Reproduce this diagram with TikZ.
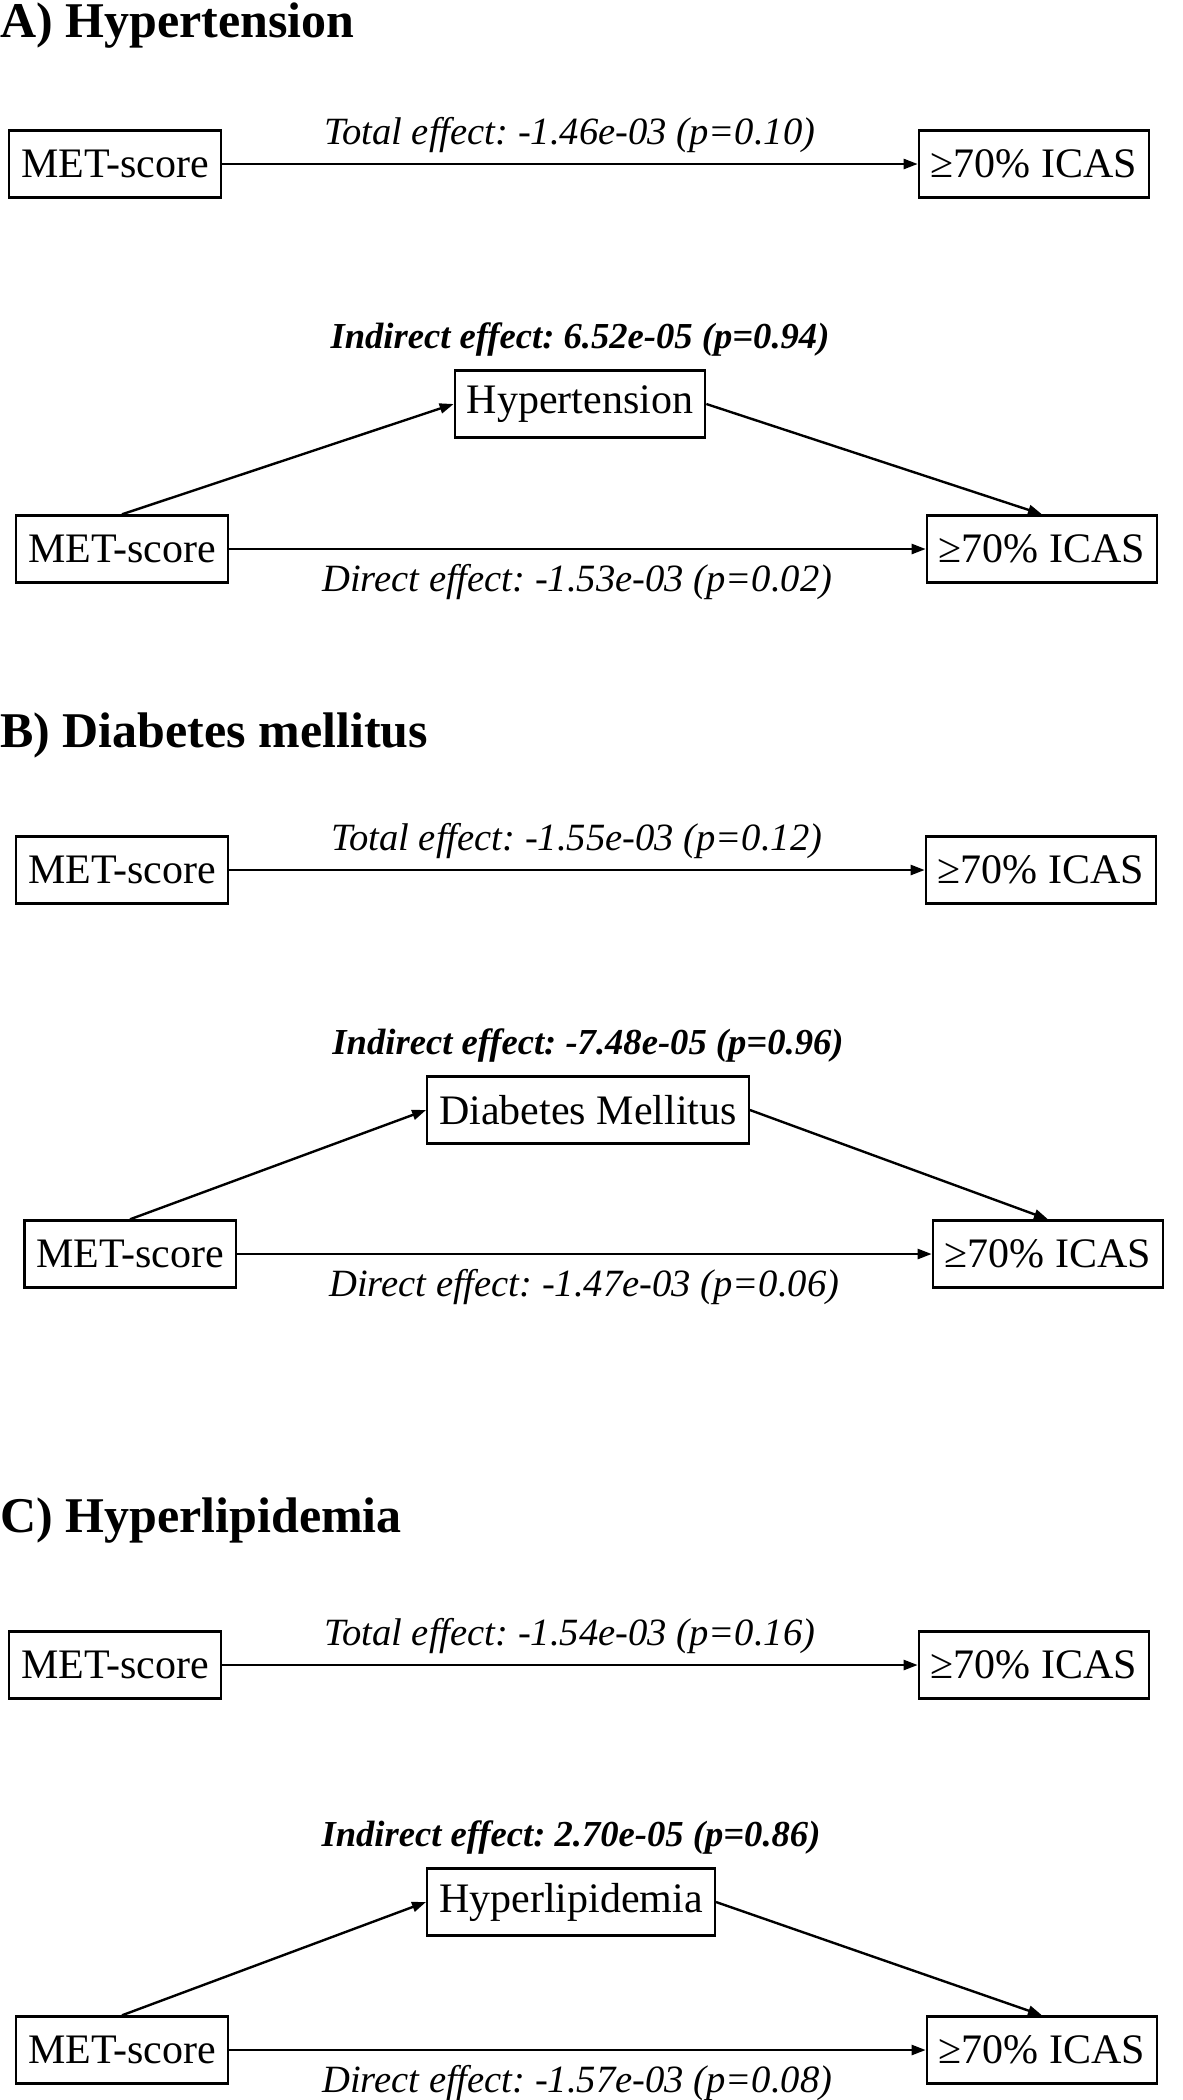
\documentclass[tikz,border=0pt]{standalone}
\usepackage{fontspec}
\setmainfont{Liberation Serif}
\usetikzlibrary{arrows.meta,positioning}
\frenchspacing

\begin{document}
\begin{tikzpicture}[x=0.5pt,y=-0.5pt,
    varbox/.style={draw,line width=1.2pt,minimum height=33.5pt,inner xsep=6pt,font=\fontsize{21}{25}\selectfont},
    paneltitle/.style={anchor=base west,inner sep=0pt,font=\fontsize{25}{30}\selectfont\bfseries},
    efflabel/.style={inner sep=0pt,font=\fontsize{19.3}{23}\selectfont\itshape},
    indlabel/.style={inner sep=0pt,font=\fontsize{18.3}{22}\selectfont\bfseries\itshape},
    effarrow/.style={line width=1.2pt,-{Triangle[length=7pt,width=5pt]}}]
  \useasboundingbox (0,0) rectangle (1183,2100);

  % A) Hypertension
  \node[paneltitle] (titleA) at (0,37) {A) Hypertension};
  \node[varbox] (metA1) at (115,164) {MET-score};
  \node[varbox] (icasA1) at (1034,164) {≥70\% ICAS};
  \draw[effarrow] (metA1) -- node[efflabel,midway,above=5pt] (totA) {Total effect: -1.46e-03 (p=0.10)} (icasA1);
  \node[varbox] (medA) at (580,404) {Hypertension};
  \node[indlabel,above=6.5pt of medA] (indA) {Indirect effect: 6.52e-05 (p=0.94)};
  \node[varbox] (metA2) at (122,549) {MET-score};
  \node[varbox] (icasA2) at (1042,549) {≥70\% ICAS};
  \draw[effarrow] (metA2) -- node[efflabel,midway,below=7pt] (dirA) {Direct effect: -1.53e-03 (p=0.02)} (icasA2);
  \draw[effarrow] (metA2.north) -- (medA.west);
  \draw[effarrow] (medA.east) -- (icasA2.north);

  % B) Diabetes mellitus
  \node[paneltitle] (titleB) at (0,747) {B) Diabetes mellitus};
  \node[varbox] (metB1) at (122,870) {MET-score};
  \node[varbox] (icasB1) at (1041,870) {≥70\% ICAS};
  \draw[effarrow] (metB1) -- node[efflabel,midway,above=5pt] (totB) {Total effect: -1.55e-03 (p=0.12)} (icasB1);
  \node[varbox] (medB) at (588,1110) {Diabetes Mellitus};
  \node[indlabel,above=6.5pt of medB] (indB) {Indirect effect: -7.48e-05 (p=0.96)};
  \node[varbox] (metB2) at (130,1254) {MET-score};
  \node[varbox] (icasB2) at (1048,1254) {≥70\% ICAS};
  \draw[effarrow] (metB2) -- node[efflabel,midway,below=7pt] (dirB) {Direct effect: -1.47e-03 (p=0.06)} (icasB2);
  \draw[effarrow] (metB2.north) -- (medB.west);
  \draw[effarrow] (medB.east) -- (icasB2.north);

  % C) Hyperlipidemia
  \node[paneltitle] (titleC) at (0,1532) {C) Hyperlipidemia};
  \node[varbox] (metC1) at (115,1665) {MET-score};
  \node[varbox] (icasC1) at (1034,1665) {≥70\% ICAS};
  \draw[effarrow] (metC1) -- node[efflabel,midway,above=5pt] (totC) {Total effect: -1.54e-03 (p=0.16)} (icasC1);
  \node[varbox] (medC) at (571,1902) {Hyperlipidemia};
  \node[indlabel,above=6.5pt of medC] (indC) {Indirect effect: 2.70e-05 (p=0.86)};
  \node[varbox] (metC2) at (122,2050) {MET-score};
  \node[varbox] (icasC2) at (1042,2050) {≥70\% ICAS};
  \draw[effarrow] (metC2) -- node[efflabel,midway,below=7pt] (dirC) {Direct effect: -1.57e-03 (p=0.08)} (icasC2);
  \draw[effarrow] (metC2.north) -- (medC.west);
  \draw[effarrow] (medC.east) -- (icasC2.north);
\end{tikzpicture}
\end{document}
